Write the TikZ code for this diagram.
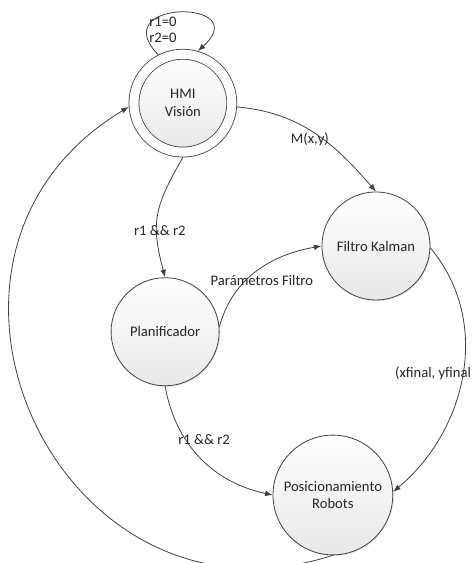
\documentclass[tikz,border=0pt]{standalone}
\usepackage{fontspec}
\setmainfont{Carlito}
\usetikzlibrary{arrows.meta,shadows}

\begin{document}
\begin{tikzpicture}[
  font=\fontsize{11}{13.5}\selectfont, >={Latex[length=2mm,width=1.5mm]},
  estado/.style={draw=black!75, circle, align=center, line width=0.6pt, top color=white, bottom color=black!9, text=black!85,
    drop shadow={opacity=0.18, shadow xshift=0.8pt, shadow yshift=-0.8pt}},
  inicial/.style={estado, double, double distance=6.9pt, outer sep=4pt},
  trans/.style={->, draw=black!75, line width=0.6pt},
  etiq/.style={text=black!85, inner sep=0pt},
]
\useasboundingbox (0,0) rectangle (12.57,-14.90);
% estados
\node[inicial, minimum size=2.59cm] (hmi) at (4.84,-2.73) {HMI\\Visión};
\node[estado, minimum size=2.86cm] (kalman) at (9.95,-6.51) {Filtro Kalman};
\node[estado, minimum size=2.86cm] (planif) at (4.37,-8.78) {Planificador};
\node[estado, minimum size=3.17cm] (posic) at (8.81,-13.10) {Posicionamiento\\Robots};
% bucle de espera
\draw[trans] (hmi.117) to[out=134,in=42,looseness=5] (hmi.74);
\node[etiq, align=center, font=\fontsize{11}{12}\selectfont] (espera) at (4.31,-0.79) {r1=0\\r2=0};
% transiciones
\draw[trans] (hmi.-4) to[out=-5,in=131] (kalman.north);
\node[etiq] (medida) at (8.20,-3.70) {M(x,y)};
\draw[trans] (hmi.south) to[out=-120,in=105,looseness=1.2] (planif.north);
\node[etiq] (cond1) at (4.23,-6.09) {r1 \&\& r2};
\draw[trans] (planif.5) to[out=75,in=190] (kalman.west);
\node[etiq] (param) at (6.93,-7.43) {Parámetros Filtro};
\draw[trans] (kalman.-2) to[out=-50,in=40] (posic.3);
\node[etiq, anchor=west] (final) at (10.45,-9.87) {(xfinal, yfinal};
\draw[trans] (planif.south) to[out=-80,in=168] (posic.west);
\node[etiq] (cond2) at (5.40,-11.64) {r1 \&\& r2};
% retorno a la HMI
\draw[trans] (posic.south) to[out=198,in=-149,looseness=1.5] (hmi.184);
\end{tikzpicture}
\end{document}
